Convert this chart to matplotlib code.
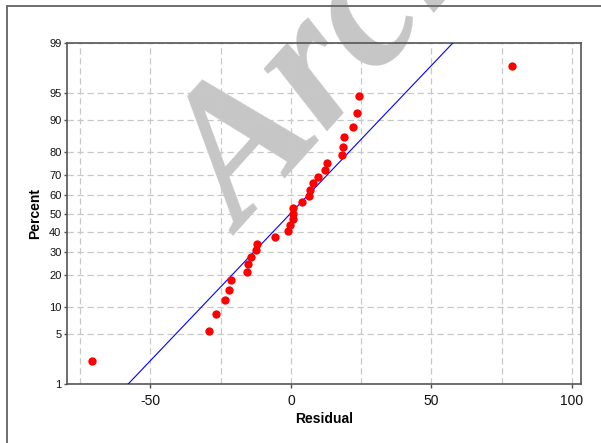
import numpy as np
import matplotlib
matplotlib.use('Agg')
import matplotlib.pyplot as plt
from matplotlib.lines import Line2D
from matplotlib.ticker import FixedLocator, NullFormatter
from statistics import NormalDist

plt.rcParams['font.family'] = ['Liberation Sans', 'DejaVu Sans']
plt.rcParams['axes.unicode_minus'] = False

# ---- data ----
residuals = [-70.8, -29.2, -26.7, -23.5, -22.1, -21.4, -15.7, -15.3, -14.2,
             -12.5, -12.1, -5.7, -1.1, -0.4, 0.7, 0.7, 0.7, 3.9, 6.4, 6.8,
             7.8, 9.6, 12.1, 12.8, 18.1, 18.5, 18.9, 22.1, 23.5, 24.2, 78.6]
percents = [2.23, 5.41, 8.60, 11.78, 14.97, 18.15, 21.34, 24.52, 27.71,
            30.89, 34.08, 37.26, 40.45, 43.63, 46.82, 50.00, 53.18, 56.37,
            59.55, 62.74, 65.92, 69.11, 72.29, 75.48, 78.66, 81.85, 85.03,
            88.22, 91.40, 94.59, 97.77]
y_ticks = [1, 5, 10, 20, 30, 40, 50, 60, 70, 80, 90, 95, 99]
x_ticks = [-50, 0, 50, 100]
x_minor = [-75, -25, 25, 75]
x_label = 'Residual'
y_label = 'Percent'
watermark = 'Archive'

nd = NormalDist()
_fwd = np.vectorize(lambda v: nd.inv_cdf(v / 100.0), otypes=[float])
_inv = np.vectorize(lambda z: nd.cdf(z) * 100.0, otypes=[float])


def forward(p):
    p = np.clip(np.asarray(p, dtype=float), 1e-6, 100 - 1e-6)
    return _fwd(p)


def inverse(z):
    return _inv(np.asarray(z, dtype=float))


W, H = 601, 443
fig = plt.figure(figsize=(W / 100, H / 100), dpi=100)
fig.patch.set_facecolor('white')
ax = fig.add_axes([67 / W, 1 - 384 / H, (581 - 67) / W, (384 - 43) / H])
ax.set_yscale('function', functions=(forward, inverse))

# watermark (behind grid)
ax.text(243 / W, 1 - 236 / H, watermark, transform=fig.transFigure,
        rotation=48, rotation_mode='anchor', ha='left', va='baseline',
        fontsize=138, family='Liberation Serif', weight='bold', style='italic',
        color='#c6c6c6', zorder=1, clip_on=False)

# fitted normal line
mu = np.mean(residuals)
sd = np.std(residuals, ddof=1)
line_p = [0.5, 99.5]
line_x = [mu + sd * NormalDist().inv_cdf(p / 100) for p in line_p]
ax.plot(line_x, line_p, color='#0000ff', lw=0.8, zorder=3)

ax.plot(residuals, percents, 'o', color='#ff0000', ms=6, mec='none', zorder=4)

ax.set_xlim(-79.7, 103.2)
ax.set_ylim(1, 99)

ax.xaxis.set_major_locator(FixedLocator(x_ticks))
ax.xaxis.set_minor_locator(FixedLocator(x_minor))
ax.xaxis.set_minor_formatter(NullFormatter())
ax.yaxis.set_major_locator(FixedLocator(y_ticks))
ax.yaxis.set_minor_locator(FixedLocator([]))
ax.set_yticklabels([str(t) for t in y_ticks])

ax.grid(True, which='both', axis='x', color='#c8c8c8', lw=0.9, ls=(0, (5, 3)))
ax.grid(True, which='major', axis='y', color='#c8c8c8', lw=0.9, ls=(0, (5, 3)))

ax.tick_params(axis='x', which='major', length=3, width=1, color='#505050',
               labelsize=10, pad=4, labelcolor='#111111')
ax.tick_params(axis='x', which='minor', length=0)
ax.tick_params(axis='y', which='major', length=2.5, width=1, color='#505050',
               labelsize=8, pad=1.5, labelcolor='#111111')

for s in ax.spines.values():
    s.set_color('#555555')
    s.set_linewidth(1.2)

ax.set_xlabel(x_label, fontsize=10, fontweight='bold', labelpad=3)
ax.set_ylabel(y_label, fontsize=10, fontweight='bold', labelpad=5)

# outer frame (partially visible)
fig.add_artist(Line2D([6.5 / W, 6.5 / W], [0, 1 - 5.5 / H],
                      transform=fig.transFigure, color='#6e6e6e', lw=1.4))
fig.add_artist(Line2D([6.5 / W, 1], [1 - 5.5 / H, 1 - 5.5 / H],
                      transform=fig.transFigure, color='#6e6e6e', lw=1.4))

fig.savefig('out.png', dpi=100)
